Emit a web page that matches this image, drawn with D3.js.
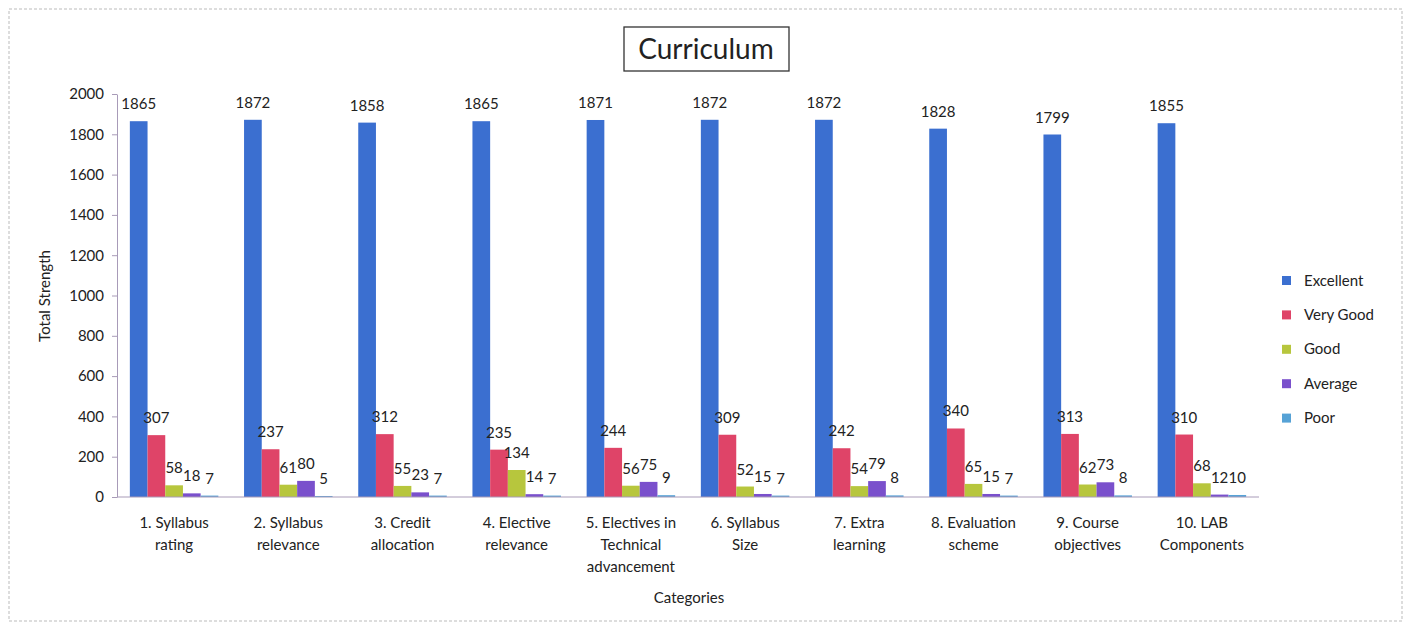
<!DOCTYPE html>
<html>
<head>
<meta charset="utf-8">
<script src="https://cdn.jsdelivr.net/npm/d3@7"></script>
<style>
body { margin: 0; background: #fff; }
text { font-family: Lato, "Open Sans", sans-serif; fill: #222; }
</style>
</head>
<body>
<div id="chart"></div>
<script>
// chart data
var categories = ["1. Syllabus\nrating", "2. Syllabus\nrelevance", "3. Credit\nallocation", "4. Elective\nrelevance",
    "5. Electives in\nTechnical\nadvancement", "6. Syllabus\nSize", "7. Extra\nlearning", "8. Evaluation\nscheme",
    "9. Course\nobjectives", "10. LAB\nComponents"];
var seriesNames = ["Excellent", "Very Good", "Good", "Average", "Poor"];
var excellent = [1865, 1872, 1858, 1865, 1871, 1872, 1872, 1828, 1799, 1855];
var veryGood = [307, 237, 312, 235, 244, 309, 242, 340, 313, 310];
var good = [58, 61, 55, 134, 56, 52, 54, 65, 62, 68];
var average = [18, 80, 23, 14, 75, 15, 79, 15, 73, 12];
var poor = [7, 5, 7, 7, 9, 7, 8, 7, 8, 10];
var yTicks = [0, 200, 400, 600, 800, 1000, 1200, 1400, 1600, 1800, 2000];

var series = [excellent, veryGood, good, average, poor];
var colors = ["#3b6fd0", "#df4468", "#b7c63d", "#7a50cc", "#56a2d6"];

var width = 1413, height = 625;
var plotLeft = 117, plotRight = 1259, plotTop = 94, plotBottom = 497;

var svg = d3.select("#chart").append("svg").attr("width", width).attr("height", height);

// outer frame
svg.append("rect").attr("x", 9).attr("y", 9).attr("width", 1393).attr("height", 612)
    .attr("fill", "none").attr("stroke", "#bbb").attr("stroke-dasharray", "3,2");

var x0 = d3.scaleBand().domain(d3.range(categories.length)).range([plotLeft, plotRight])
    .paddingInner(0.225).paddingOuter(0.1125);
var x1 = d3.scaleBand().domain(d3.range(seriesNames.length)).range([0, x0.bandwidth()]);
var y = d3.scaleLinear().domain([0, 2000]).range([plotBottom, plotTop]);

// y axis
var yAxis = svg.append("g").attr("transform", "translate(" + plotLeft + ",0)")
    .call(d3.axisLeft(y).tickValues(yTicks).tickFormat(d3.format("d")).tickSize(5).tickPadding(8).tickSizeOuter(0));
yAxis.select(".domain").attr("stroke", "#a89bb8");
yAxis.selectAll(".tick line").attr("stroke", "#a89bb8");
yAxis.selectAll(".tick text").style("font-size", "15px").attr("fill", "#222")
    .style("font-family", "Lato, sans-serif");

// bars
var groups = svg.selectAll("g.cat").data(categories).enter().append("g").attr("class", "cat")
    .attr("transform", function(d, i) { return "translate(" + x0(i) + ",0)"; });

groups.selectAll("rect").data(function(d, i) {
    return series.map(function(s, k) { return {k: k, v: s[i]}; });
}).enter().append("rect")
    .attr("x", function(d) { return x1(d.k); })
    .attr("y", function(d) { return y(d.v); })
    .attr("width", x1.bandwidth())
    .attr("height", function(d) { return plotBottom - y(d.v); })
    .attr("fill", function(d) { return colors[d.k]; });

groups.selectAll("text.val").data(function(d, i) {
    return series.map(function(s, k) { return {k: k, v: s[i]}; });
}).enter().append("text").attr("class", "val")
    .attr("x", function(d) { return x1(d.k) + x1.bandwidth() / 2; })
    .attr("y", function(d) { return y(d.v) - 12; })
    .attr("text-anchor", "middle")
    .style("font-size", "15px")
    .text(function(d) { return d.v; });

// x axis line
svg.append("line").attr("x1", plotLeft).attr("x2", plotRight).attr("y1", plotBottom).attr("y2", plotBottom)
    .attr("stroke", "#a89bb8");

// category labels
svg.selectAll("text.catlabel").data(categories).enter().append("text").attr("class", "catlabel")
    .attr("text-anchor", "middle")
    .style("font-size", "15px")
    .each(function(d, i) {
        var t = d3.select(this);
        d.split("\n").forEach(function(line, j) {
            t.append("tspan").attr("x", x0(i) + x0.bandwidth() / 2).attr("y", 528 + j * 22).text(line);
        });
    });

// axis titles
svg.append("text").attr("x", (plotLeft + plotRight) / 2 + 1).attr("y", 603).attr("text-anchor", "middle")
    .style("font-size", "15px").text("Categories");
svg.append("text").attr("transform", "translate(50,296) rotate(-90)").attr("text-anchor", "middle")
    .style("font-size", "15px").text("Total Strength");

// title
svg.append("rect").attr("x", 624).attr("y", 27).attr("width", 165).attr("height", 44)
    .attr("fill", "none").attr("stroke", "#333").attr("stroke-width", 1.3);
svg.append("text").attr("x", 706).attr("y", 59).attr("text-anchor", "middle")
    .style("font-size", "28px").text("Curriculum");

// legend
var legend = svg.selectAll("g.leg").data(seriesNames).enter().append("g").attr("class", "leg")
    .attr("transform", function(d, i) { return "translate(1282," + (280 + i * 34.4) + ")"; });
legend.append("rect").attr("x", 0).attr("y", -4).attr("width", 9).attr("height", 9)
    .attr("fill", function(d, i) { return colors[i]; });
legend.append("text").attr("x", 22).attr("y", 5.5).style("font-size", "15px").text(function(d) { return d; });
</script>
</body>
</html>
